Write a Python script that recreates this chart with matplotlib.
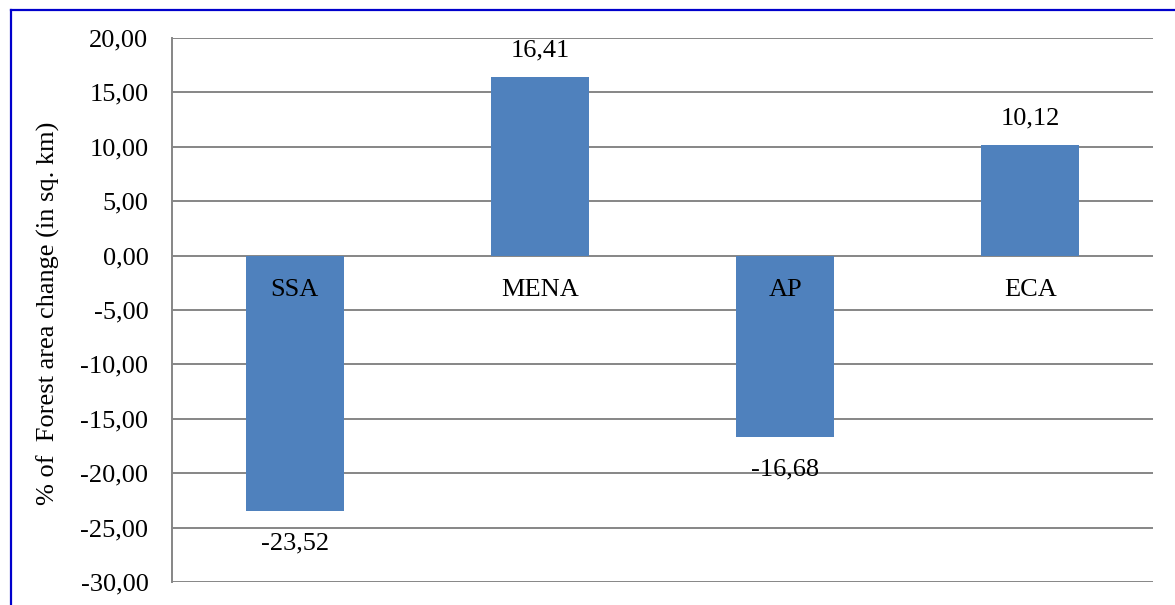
import matplotlib
matplotlib.use("Agg")
import matplotlib.pyplot as plt
from matplotlib.lines import Line2D

categories = ["SSA", "MENA", "AP", "ECA"]
values = [-23.52, 16.41, -16.68, 10.12]
yticks = [20, 15, 10, 5, 0, -5, -10, -15, -20, -25, -30]

plt.rcParams['font.family'] = ['Liberation Serif', 'DejaVu Serif']
W, H = 1175, 605
FS = 19
fig = plt.figure(figsize=(W/100, H/100), dpi=100)
ax = fig.add_axes([172/W, 1-582/H, (1153-172)/W, (582-38)/H])

bar_color = "#4F81BD"
grid_color = "#868686"
xs = list(range(len(categories)))
ax.bar(xs, values, width=0.4, color=bar_color, zorder=2)
ax.set_xlim(-0.5, len(categories)-0.5)
ax.set_ylim(-30, 20)
ax.set_yticks(yticks)
ax.set_yticklabels([f"{t:.2f}".replace(".", ",") for t in yticks], fontsize=FS)
ax.tick_params(axis='y', length=0, pad=17)
ax.set_xticks([])
ax.yaxis.grid(True, color=grid_color, linewidth=1.4, zorder=0)
ax.set_axisbelow(True)
for s in ["top", "right", "bottom"]:
    ax.spines[s].set_visible(False)
ax.spines["left"].set_color(grid_color)
ax.spines["left"].set_linewidth(1.4)

for x, v, c in zip(xs, values, categories):
    ax.annotate(c, (x, 0), xytext=(0, -34), textcoords='offset pixels',
                ha='center', va='center', fontsize=FS, zorder=3)
    lbl = f"{v:.2f}".replace(".", ",")
    off = 27 if v > 0 else -32
    ax.annotate(lbl, (x, v), xytext=(0, off), textcoords='offset pixels',
                ha='center', va='center', fontsize=FS, zorder=3)

fig.text(48/W, 1-313/H, "% of  Forest area change (in sq. km)", rotation=90,
         ha='center', va='center', fontsize=FS)

fig.add_artist(Line2D([10.5/W, 10.5/W], [0, 1-9.5/H], transform=fig.transFigure,
                      color="#0000CC", linewidth=1.6))
fig.add_artist(Line2D([10.5/W, 1], [1-9.5/H, 1-9.5/H], transform=fig.transFigure,
                      color="#0000CC", linewidth=1.6))

fig.savefig("out.png", dpi=100)
